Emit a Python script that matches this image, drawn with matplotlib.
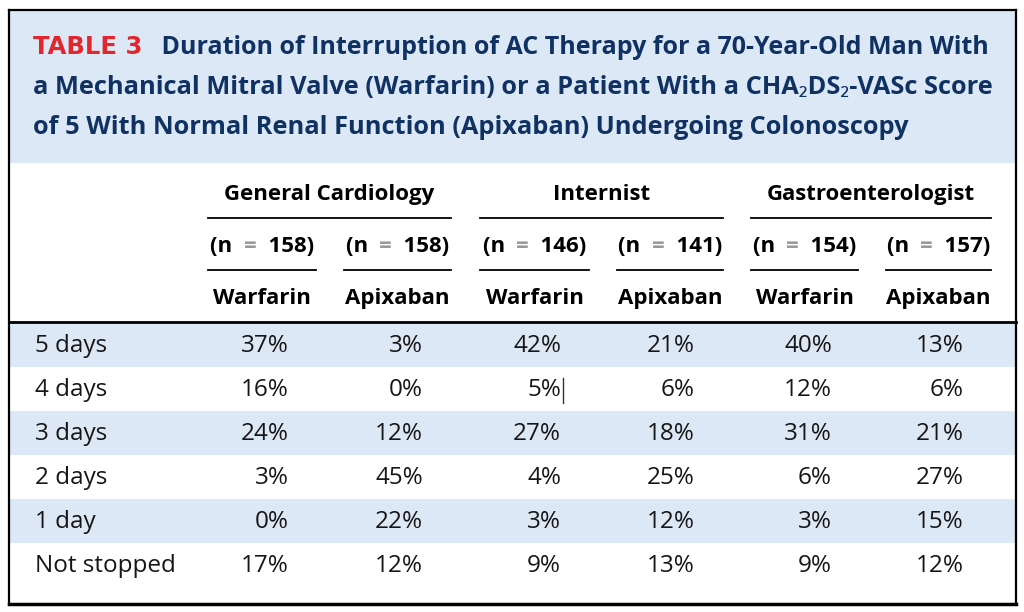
import matplotlib
matplotlib.use('Agg')
import matplotlib.pyplot as plt

plt.rcParams['font.family'] = ['Open Sans', 'Noto Sans', 'DejaVu Sans']

# table content
title_tag = 'TABLE 3'
title_lines = ['Duration of Interruption of AC Therapy for a 70-Year-Old Man With',
               'a Mechanical Mitral Valve (Warfarin) or a Patient With a CHA\u2082DS\u2082-VASc Score',
               'of 5 With Normal Renal Function (Apixaban) Undergoing Colonoscopy']
groups = ['General Cardiology', 'Internist', 'Gastroenterologist']
n_values = [158, 158, 146, 141, 154, 157]
drugs = ['Warfarin', 'Apixaban', 'Warfarin', 'Apixaban', 'Warfarin', 'Apixaban']
row_labels = ['5 days', '4 days', '3 days', '2 days', '1 day', 'Not stopped']
gen_card_warf = [37, 16, 24, 3, 0, 17]
gen_card_apix = [3, 0, 12, 45, 22, 12]
internist_warf = [42, 5, 27, 4, 3, 9]
internist_apix = [21, 6, 18, 25, 12, 13]
gastro_warf = [40, 12, 31, 6, 3, 9]
gastro_apix = [13, 6, 21, 27, 15, 12]
columns = [gen_card_warf, gen_card_apix, internist_warf, internist_apix, gastro_warf, gastro_apix]

BAND = '#dde8f6'
NAVY = '#0f3263'
RED = '#e1262d'
TXT = '#161616'

fig = plt.figure(figsize=(10.24, 6.12), dpi=100)
ax = fig.add_axes([0, 0, 1, 1])
ax.set_xlim(0, 1024)
ax.set_ylim(612, 0)
ax.axis('off')

left, right, top, bottom = 9, 1016, 10, 604
# title band
ax.fill_between([left, right], top, 163, color=BAND, lw=0)

# title text
t = ax.text(33, 47, title_tag, color=RED, fontsize=17.5, fontweight='bold', va='center',
            family='DejaVu Sans')
ax.annotate('   ' + title_lines[0], xy=(1, 0.5), xycoords=t, va='center',
            color=NAVY, fontsize=18, fontweight='bold')
for i, line in enumerate(title_lines[1:]):
    ax.text(33, 87 + 40 * i, line, color=NAVY, fontsize=18.3, fontweight='bold', va='center')

# column layout
col_left = [208, 344, 480, 617, 751, 886]
col_right = [316, 451, 589, 723, 858, 991]
val_right = [289, 423, 561, 695, 832, 964]
HFS = 16

for g, name in enumerate(groups):
    x0, x1 = col_left[2 * g], col_right[2 * g + 1]
    ax.text((x0 + x1) / 2, 200, name, ha='center', va='baseline', fontsize=HFS, fontweight='bold')
    ax.plot([x0, x1], [218, 218], color='black', lw=1.3)

fig.canvas.draw()
renderer = fig.canvas.get_renderer()
for c in range(6):
    xc = (col_left[c] + col_right[c]) / 2
    parts = [('(n  ', 'black'), ('=', '#9a9a9a'), ('  %d)' % n_values[c], 'black')]
    # measure the total width, then place pieces left to right
    tmp = ax.text(0, 0, ''.join(p[0] for p in parts), fontsize=HFS, fontweight='bold')
    bb = tmp.get_window_extent(renderer)
    tmp.remove()
    x = xc - bb.width / 2
    prev = None
    for s, colr in parts:
        if prev is None:
            prev = ax.text(x, 246, s, color=colr, fontsize=HFS, fontweight='bold', va='center')
        else:
            prev = ax.annotate(s, xy=(1, 0.5), xycoords=prev, va='center', color=colr,
                               fontsize=HFS, fontweight='bold')
    ax.plot([col_left[c], col_right[c]], [270, 270], color='black', lw=1.3)
    ax.text(xc, 304, drugs[c], ha='center', va='baseline', fontsize=HFS, fontweight='bold')

# body
ax.plot([left, right], [322, 322], color='black', lw=2)
row_h = 44
for r, lab in enumerate(row_labels):
    yc = 346 + r * row_h
    if r % 2 == 0:
        ax.fill_between([left + 1, right - 1], 323 + r * row_h, 323 + (r + 1) * row_h,
                        color=BAND, lw=0)
    ax.text(35, yc, lab, va='center', fontsize=17.5, color=TXT)
    for c in range(6):
        ax.text(val_right[c], yc, '%d%%' % columns[c][r], ha='right', va='center',
                fontsize=17.5, color=TXT)

# stray text cursor next to the 4-day internist value, as in the source image
ax.plot([val_right[2] + 2, val_right[2] + 2], [346 + row_h - 12, 346 + row_h + 13],
        color='#333333', lw=1)

# frame
ax.plot([left, right], [top, top], color='black', lw=1.6)
ax.plot([left, left], [top, bottom], color='black', lw=1.6)
ax.plot([right, right], [top, bottom], color='black', lw=1.6)
ax.plot([left, right], [bottom, bottom], color='black', lw=2.5)

fig.savefig('out.png', dpi=100)
